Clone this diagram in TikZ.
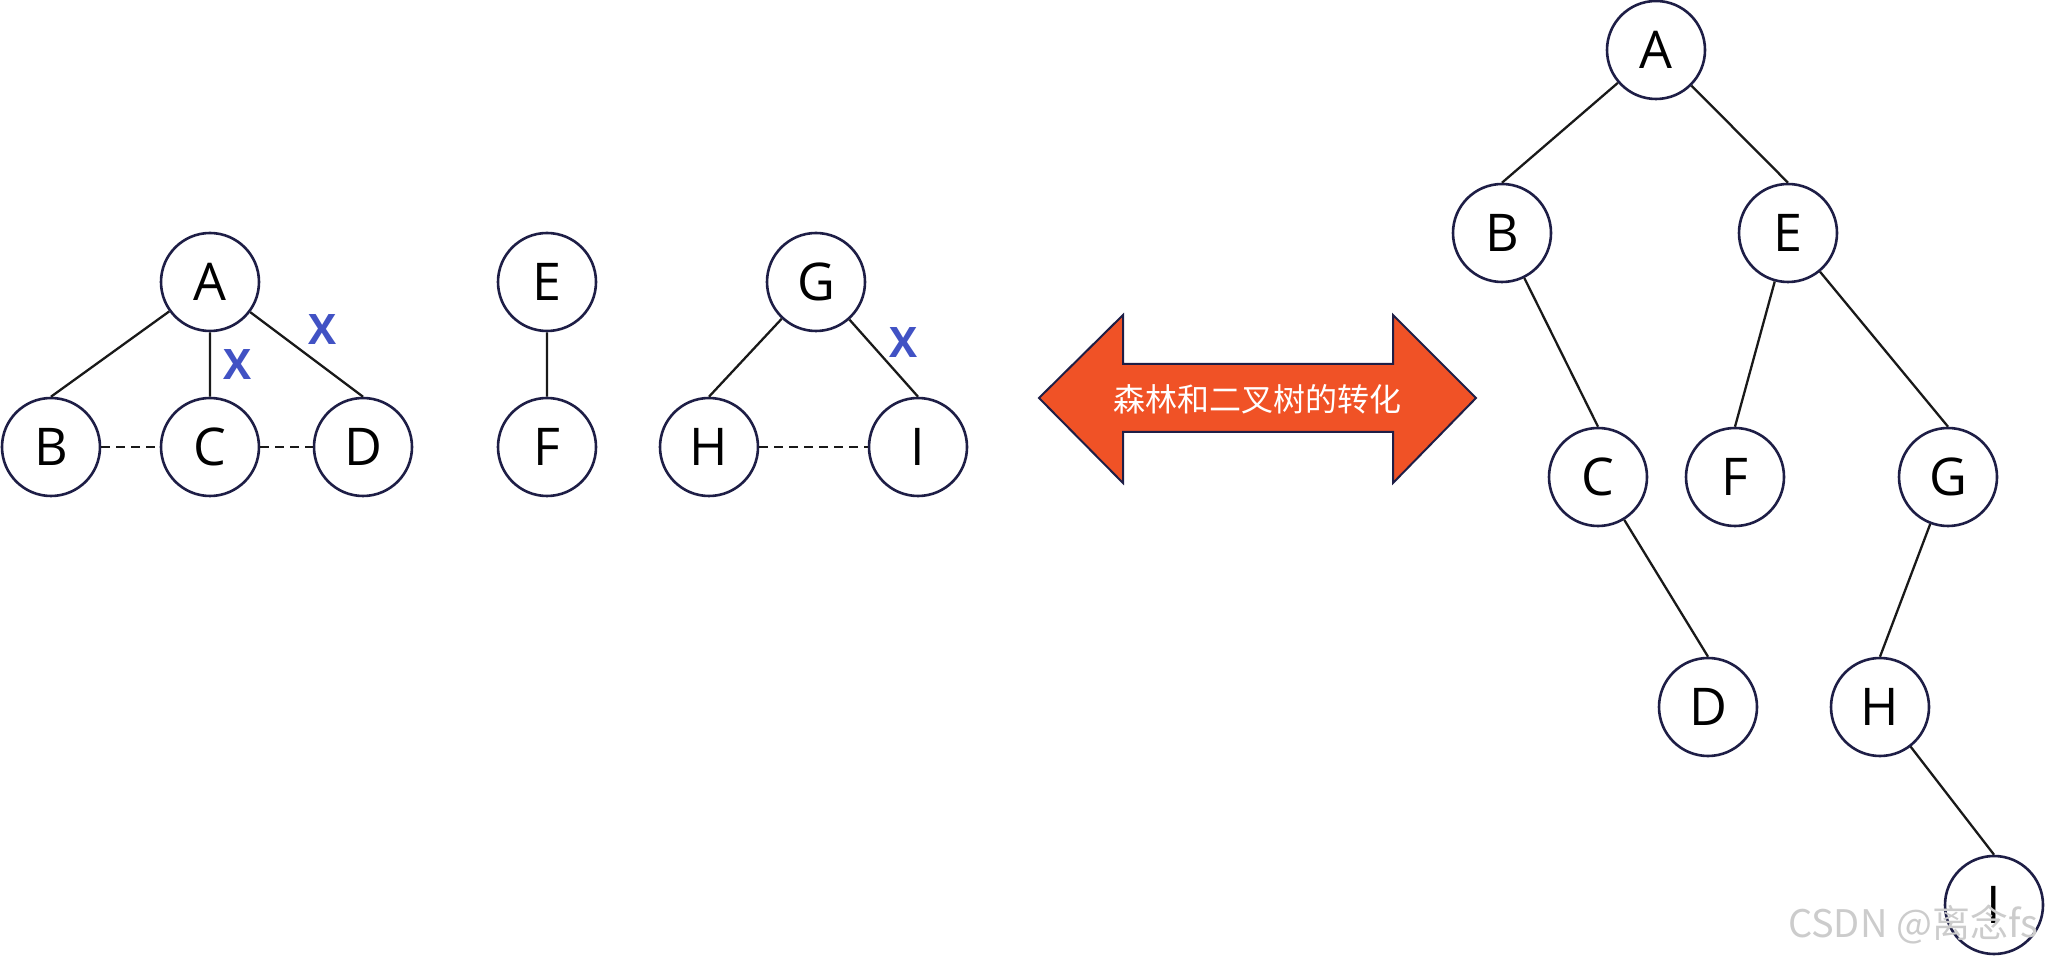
\documentclass[tikz,border=0pt]{standalone}
\usepackage{fontspec}
\setmainfont{Open Sans}
\newfontfamily\cjk{Noto Sans CJK SC}
\usetikzlibrary{positioning}
\definecolor{ringcol}{HTML}{1E1E46}
\definecolor{arrowfill}{HTML}{F05226}
\definecolor{crossblue}{HTML}{4152C4}
\tikzset{
 vtx/.style={circle,draw=ringcol,line width=1.3pt,fill=white,minimum size=49pt,inner sep=0pt,
  font=\fontsize{26}{26}\selectfont},
 edge/.style={line width=1.15pt,draw=black!90},
 sib/.style={edge,dash pattern=on 4.5pt off 3pt},
 cross/.style={text=crossblue,inner sep=0pt,font=\fontsize{21}{21}\selectfont\bfseries}
}
\begin{document}
\begin{tikzpicture}[x=0.5pt,y=-0.5pt]
\useasboundingbox (0,0) rectangle (2045,956);
% forest
\foreach \n/\lab/\x/\y in {lA/A/210/282,lB/B/51/447,lC/C/210/447,lD/D/363/447,
  lE/E/547/282,lF/F/547/447,lG/G/816/282,lH/H/709/447,lI/I/918/447}
 {\node[vtx] (\n) at (\x,\y) {\lab};}
\draw[edge] (lA)--(lB.north) (lA)--(lC.north) (lA)--(lD.north) (lE)--(lF.north)
 (lG)--(lH.north) (lG)--(lI.north);
\draw[sib] (lB)--(lC) (lC)--(lD) (lH)--(lI);
\node[cross] (xAC) at (238,365) {X};
\node[cross] (xAD) at (323,330) {X};
\node[cross] (xGI) at (903,343) {X};
% arrow
\draw[draw=ringcol,line width=1pt,fill=arrowfill] (1039,398)--(1123,315)--(1123,364)--(1393,364)
 --(1393,315)--(1476,398)--(1393,483)--(1393,432)--(1123,432)--(1123,483)--cycle;
\node[text=white,font=\cjk\fontsize{16}{16}\selectfont] (conv) at (1257,399) {森林和二叉树的转化};
% binary tree
\foreach \n/\lab/\x/\y in {rA/A/1656/50,rB/B/1502/233,rE/E/1788/233,rC/C/1598/477,rF/F/1735/477,
  rG/G/1948/477,rD/D/1708/707,rH/H/1880/707,rI/I/1994/905}
 {\node[vtx] (\n) at (\x,\y) {\lab};}
\draw[edge] (rA)--(rB.north) (rA)--(rE.north) (rB)--(rC.north) (rC)--(rD.north)
 (rE)--(rF.north) (rE)--(rG.north) (rG)--(rH.north) (rH)--(rI.north);
\node[anchor=west,text=gray!40,font=\cjk\fontsize{19}{19}\selectfont] (mark) at (1781,924) {CSDN @离念fs};
\end{tikzpicture}
\end{document}
